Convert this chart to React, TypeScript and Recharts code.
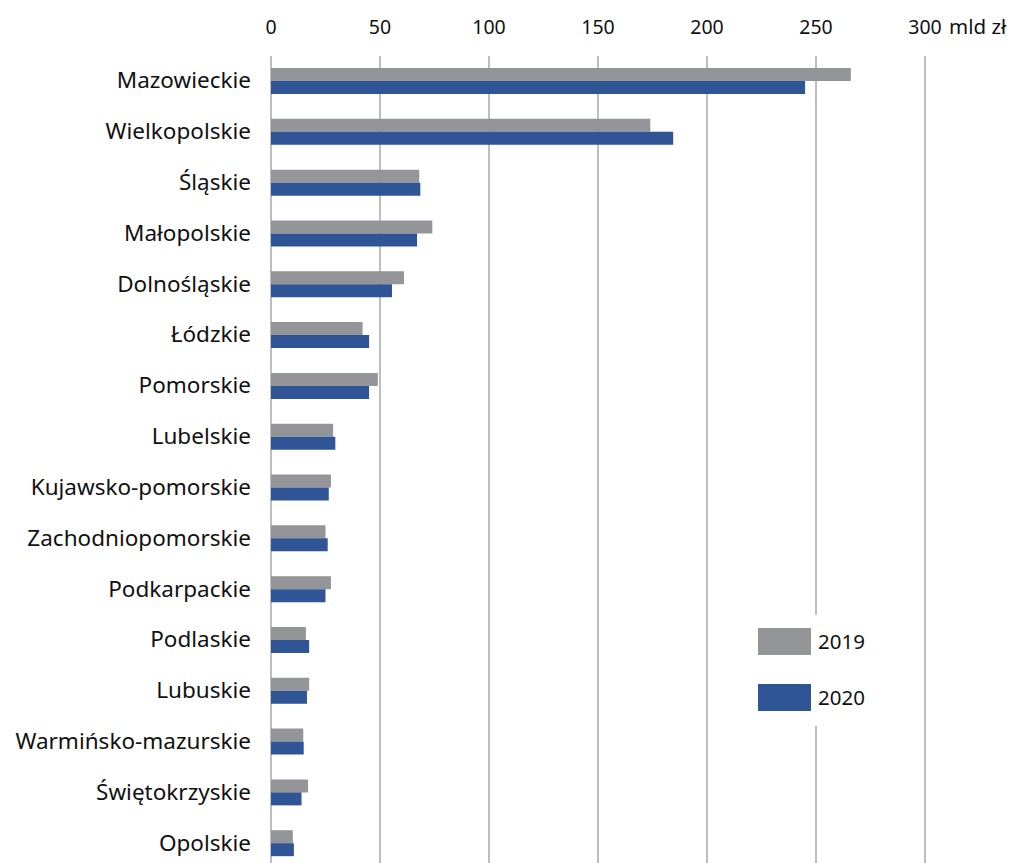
import { BarChart, Bar, XAxis, YAxis, CartesianGrid, Legend } from 'recharts';

const regiony = [
  'Mazowieckie',
  'Wielkopolskie',
  'Śląskie',
  'Małopolskie',
  'Dolnośląskie',
  'Łódzkie',
  'Pomorskie',
  'Lubelskie',
  'Kujawsko-pomorskie',
  'Zachodniopomorskie',
  'Podkarpackie',
  'Podlaskie',
  'Lubuskie',
  'Warmińsko-mazurskie',
  'Świętokrzyskie',
  'Opolskie',
];

const wartosci2019 = [266, 174, 68, 74, 61, 42, 49, 28.5, 27.5, 25, 27.5, 16, 17.5, 14.8, 17, 10];
const wartosci2020 = [245, 184.5, 68.5, 67, 55.5, 45, 45, 29.5, 26.5, 26, 25, 17.5, 16.5, 15, 14, 10.5];

const osX = [0, 50, 100, 150, 200, 250, 300];
const jednostka = 'mld zł';

const dane = regiony.map((nazwa, i) => ({
  nazwa,
  r2019: wartosci2019[i],
  r2020: wartosci2020[i],
}));

const FONT = "'Noto Sans', sans-serif";

const TickX = ({ x, y, payload }: any) => {
  const ostatni = payload.value === osX[osX.length - 1];
  return (
    <g>
      <text x={x} y={y} textAnchor="middle" fontSize={19.5} fontFamily={FONT} fill="#111">
        {payload.value}
      </text>
      {ostatni && (
        <text x={x + 24} y={y} textAnchor="start" fontSize={20.5} fontFamily={FONT} fill="#111">
          {jednostka}
        </text>
      )}
    </g>
  );
};

const Legenda = ({ payload }: any) => (
  <div style={{ background: '#fff', width: 130, height: 111, position: 'relative' }}>
    {(payload || []).map((entry: any, index: number) => (
      <div
        key={index}
        style={{
          position: 'absolute',
          left: 10,
          top: 13 + index * 56,
          display: 'flex',
          alignItems: 'center',
        }}
      >
        <div style={{ width: 53, height: 27, background: entry.color }} />
        <span style={{ marginLeft: 7, fontSize: 20.5, fontFamily: FONT, color: '#111', lineHeight: '27px' }}>
          {entry.value}
        </span>
      </div>
    ))}
  </div>
);

export default function App() {
  return (
    <div
      style={{
        position: 'fixed',
        left: 0,
        top: 0,
        width: 1022,
        height: 863,
        overflow: 'hidden',
        background: '#fff',
        fontFamily: FONT,
      }}
    >
      <BarChart
        width={1022}
        height={869}
        data={dane}
        layout="vertical"
        margin={{ top: 0, right: 97, bottom: 0, left: 0 }}
        barSize={13}
        barGap={0}
      >
        <CartesianGrid horizontal={false} stroke="#a8a8a8" strokeWidth={1.5} />
        <XAxis
          type="number"
          orientation="top"
          domain={[0, 300]}
          ticks={osX}
          height={56}
          axisLine={false}
          tickLine={false}
          tickMargin={16}
          tick={<TickX />}
          interval={0}
        />
        <YAxis
          type="category"
          dataKey="nazwa"
          width={271}
          axisLine={false}
          tickLine={false}
          tickMargin={14}
          interval={0}
          tick={{ fill: '#111', fontSize: 22.5, fontFamily: FONT, dy: -1 }}
        />
        <Legend
          layout="vertical"
          align="center"
          verticalAlign="middle"
          content={<Legenda />}
          wrapperStyle={{ left: 748, top: 615, width: 130, height: 111 }}
        />
        <Bar dataKey="r2019" name="2019" fill="#949599" isAnimationActive={false} />
        <Bar dataKey="r2020" name="2020" fill="#2f5597" isAnimationActive={false} />
      </BarChart>
    </div>
  );
}
